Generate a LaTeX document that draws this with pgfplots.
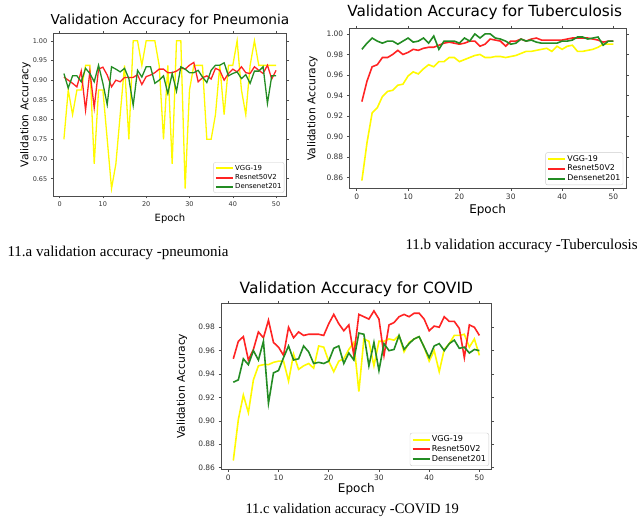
\documentclass[border=0pt]{standalone}
\usepackage{pgfplots}
\pgfplotsset{compat=1.18}
\usepackage{pgfplotstable}
\usepackage{fontspec}
\setmainfont{Liberation Serif}
\newfontfamily\plotfont{DejaVu Sans}

\definecolor{cvgg}{RGB}{255,250,0}
\definecolor{cres}{RGB}{255,35,35}
\definecolor{cden}{RGB}{35,140,35}

% epoch, VGG-19, Resnet50V2, Densenet201
\pgfplotstableread{
e vgg res den
1 .75 .908 .917
2 .875 .900 .880
3 .8125 .892 .911
4 .875 .883 .911
5 .875 .923 .896
6 .9375 .824 .930
7 .9375 .923 .917
8 .6875 .830 .896
9 .875 .928 .938
10 .875 .933 .892
11 .75 .913 .838
12 .625 .883 .934
13 .6875 .900 .928
14 .8125 .896 .921
15 .9375 .907 .930
16 .75 .907 .904
17 1 .907 .836
18 1 .914 .925
19 .9375 .889 .908
20 1 .909 .934
21 1 .913 .934
22 1 .919 .892
23 .9375 .928 .900
24 .75 .928 .911
25 .9375 .919 .866
26 .6875 .919 .917
27 1 .923 .872
28 1 .931 .934
29 .625 .928 .928
30 .875 .938 .919
31 .9375 .945 .919
32 .9375 .896 .925
33 .9375 .906 .908
34 .75 .911 .894
35 .75 .903 .925
36 .8125 .930 .938
37 .9375 .925 .938
38 .8125 .900 .944
39 .9375 .917 .911
40 .9375 .928 .917
41 1 .921 .921
42 .875 .934 .904
43 .8125 .919 .914
44 .9375 .917 .892
45 1 .934 .923
46 .9375 .925 .923
47 .9375 .917 .934
48 .9375 .938 .841
49 .9375 .903 .911
50 .9375 .925 .911
}\pneumonia

\pgfplotstableread{
e vgg res den
1 .857 .934 .985
2 .894 .954 .991
3 .923 .968 .996
4 .928 .970 .993
5 .939 .977 .991
6 .944 .977 .993
7 .945 .980 .993
8 .950 .984 .990
9 .951 .980 .993
10 .959 .982 .996
11 .963 .985 .992
12 .961 .984 .993
13 .966 .986 .996
14 .970 .987 .991
15 .968 .987 .998
16 .973 .989 .985
17 .973 .991 .993
18 .977 .992 .993
19 .977 .991 .993
20 .973 .990 .991
21 .975 .991 .996
22 .977 .993 .993
23 .979 .993 1.000
24 .980 .988 .996
25 .977 .990 1.000
26 .977 .995 1.000
27 .978 .994 .996
28 .978 .993 .995
29 .977 .988 .993
30 .978 .993 .990
31 .979 .993 .991
32 .981 .995 .995
33 .983 .993 .993
34 .983 .995 .994
35 .984 .996 .992
36 .985 .994 .991
37 .986 .994 .991
38 .983 .994 .991
39 .988 .994 .991
40 .985 .994 .993
41 .988 .995 .993
42 .989 .996 .994
43 .983 .996 .997
44 .983 .996 .997
45 .984 .996 .995
46 .985 .995 .996
47 .987 .994 .997
48 .990 .992 .989
49 .990 .993 .993
50 .990 .993 .993
}\tuberculosis

\pgfplotstableread{
e vgg res den
1 .866 .953 .933
2 .901 .968 .935
3 .922 .972 .953
4 .907 .952 .948
5 .935 .961 .960
6 .947 .976 .952
7 .948 .971 .968
8 .948 .986 .915
9 .950 .967 .941
10 .951 .963 .943
11 .951 .956 .954
12 .934 .980 .964
13 .957 .971 .952
14 .944 .976 .953
15 .947 .973 .964
16 .949 .974 .959
17 .945 .974 .949
18 .964 .974 .950
19 .963 .973 .949
20 .951 .983 .951
21 .942 .991 .962
22 .951 .983 .964
23 .953 .977 .949
24 .961 .982 .958
25 .967 .956 .952
26 .925 .991 .975
27 .970 .989 .974
28 .968 .987 .947
29 .947 .994 .967
30 .968 .987 .943
31 .968 .956 .966
32 .970 .982 .960
33 .969 .984 .961
34 .973 .989 .973
35 .959 .991 .961
36 .967 .989 .966
37 .970 .992 .970
38 .972 .992 .972
39 .963 .987 .963
40 .951 .977 .954
41 .960 .981 .964
42 .942 .980 .966
43 .961 .989 .960
44 .966 .985 .966
45 .973 .985 .969
46 .973 .979 .962
47 .974 .954 .963
48 .963 .982 .958
49 .970 .980 .961
50 .956 .973 .960
}\covid

\pgfplotsset{
  accplot/.style={
    scale only axis,
    anchor=south west,
    xmin=-1.45, xmax=52.45,
    xtick={0,10,20,30,40,50},
    axis line style={black!70, line width=0.5pt},
    tick align=outside,
    tick style={black!70, line width=0.5pt},
    major tick length=2.5pt,
    /pgf/number format/assume math mode=true,
    yticklabel style={/pgf/number format/.cd, fixed, fixed zerofill, precision=2},
    ticklabel style={text=black!80},
    title style={at={(axis description cs:0.5,1)}, anchor=base},
    xlabel={Epoch},
    xlabel style={at={(axis description cs:0.5,0)}, anchor=base},
    ylabel={Validation Accuracy},
    ylabel style={at={(axis description cs:0,0.5)}, anchor=center, font=\plotfont\fontsize{10.7}{12}\selectfont},
    legend cell align=left,
    legend style={at={(axis description cs:0.99,0.02)}, anchor=south east,
      draw=black!20, rounded corners=2pt, fill=white, inner sep=1.5pt,
      nodes={inner sep=1.2pt}},
    legend image post style={line width=2pt},
  },
}

\begin{document}
\begin{tikzpicture}
\useasboundingbox (0,0) rectangle (637pt,527pt);

% 11.a pneumonia
\begin{axis}[accplot,
  at={(53.3pt,331pt)}, width=233.4pt, height=162.7pt,
  ymin=0.606, ymax=1.019,
  ytick={0.65,0.70,0.75,0.80,0.85,0.90,0.95,1.00},
  ticklabel style={font=\plotfont\fontsize{6.5}{8}\selectfont},
  title={Validation Accuracy for Pneumonia},
  title style={font=\plotfont\fontsize{13.7}{16}\selectfont, yshift=2.6pt},
  xlabel style={font=\plotfont\fontsize{10}{12}\selectfont, yshift=-25.7pt},
  ylabel style={yshift=28pt},
  legend style={font=\plotfont\fontsize{6.9}{8.5}\selectfont},
]
\addplot[color=cvgg, line width=1.3pt, no markers] table[x=e, y=vgg] {\pneumonia};
\addlegendentry{VGG-19}
\addplot[color=cres, line width=1.3pt, no markers] table[x=e, y=res] {\pneumonia};
\addlegendentry{Resnet50V2}
\addplot[color=cden, line width=1.3pt, no markers] table[x=e, y=den] {\pneumonia};
\addlegendentry{Densenet201}
\end{axis}

% 11.b tuberculosis
\begin{axis}[accplot,
  at={(349.3pt,338.7pt)}, width=276.7pt, height=160pt,
  ymin=0.8495, ymax=1.0055,
  ytick={0.86,0.88,0.90,0.92,0.94,0.96,0.98,1.00},
  ticklabel style={font=\plotfont\fontsize{7.5}{9}\selectfont},
  title={Validation Accuracy for Tuberculosis},
  title style={font=\plotfont\fontsize{15.3}{18}\selectfont, yshift=5.6pt, xshift=-3pt},
  xlabel style={font=\plotfont\fontsize{12}{14}\selectfont, yshift=-25pt},
  ylabel style={yshift=37pt},
  legend style={font=\plotfont\fontsize{7.9}{9.5}\selectfont},
]
\addplot[color=cvgg, line width=1.6pt, no markers] table[x=e, y=vgg] {\tuberculosis};
\addlegendentry{VGG-19}
\addplot[color=cres, line width=1.6pt, no markers] table[x=e, y=res] {\tuberculosis};
\addlegendentry{Resnet50V2}
\addplot[color=cden, line width=1.6pt, no markers] table[x=e, y=den] {\tuberculosis};
\addlegendentry{Densenet201}
\end{axis}

% 11.c covid
\begin{axis}[accplot,
  at={(221pt,57.7pt)}, width=270.7pt, height=166pt,
  ymin=0.8585, ymax=1.0005,
  ytick={0.86,0.88,0.90,0.92,0.94,0.96,0.98},
  ticklabel style={font=\plotfont\fontsize{7.5}{9}\selectfont},
  title={Validation Accuracy for COVID},
  title style={font=\plotfont\fontsize{15.5}{18}\selectfont, yshift=3.3pt},
  xlabel style={font=\plotfont\fontsize{12}{14}\selectfont, yshift=-23pt},
  ylabel style={yshift=39pt},
  legend style={font=\plotfont\fontsize{8.1}{9.7}\selectfont},
]
\addplot[color=cvgg, line width=1.6pt, no markers] table[x=e, y=vgg] {\covid};
\addlegendentry{VGG-19}
\addplot[color=cres, line width=1.6pt, no markers] table[x=e, y=res] {\covid};
\addlegendentry{Resnet50V2}
\addplot[color=cden, line width=1.6pt, no markers] table[x=e, y=den] {\covid};
\addlegendentry{Densenet201}
\end{axis}

\node[anchor=base west, font=\fontsize{15}{18}\selectfont] at (4pt,270.3pt) {11.a validation accuracy -pneumonia};
\node[anchor=base west, font=\fontsize{15}{18}\selectfont] at (402pt,277pt) {11.b validation accuracy -Tuberculosis};
\node[anchor=base west, font=\fontsize{14.5}{17}\selectfont] at (242pt,13.7pt) {11.c validation accuracy -COVID 19};
\end{tikzpicture}
\end{document}
